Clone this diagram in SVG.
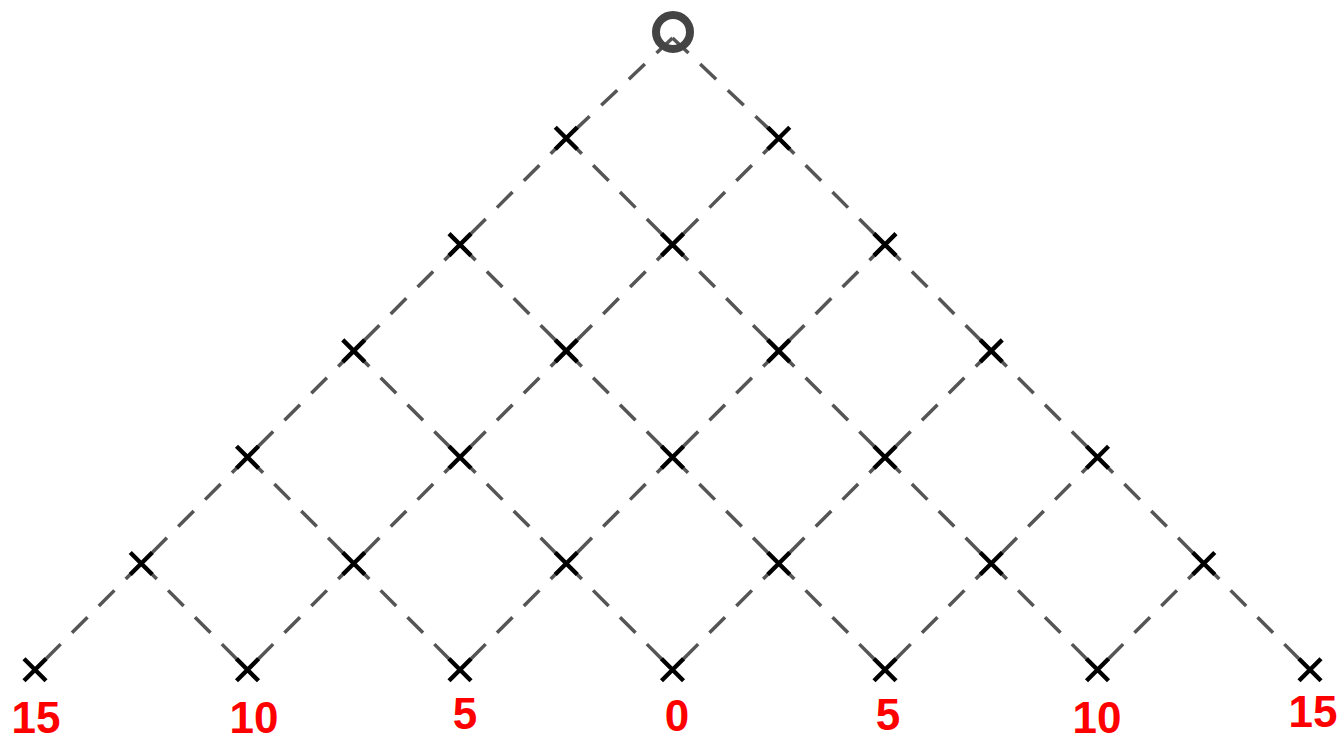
<svg xmlns="http://www.w3.org/2000/svg" xmlns:xlink="http://www.w3.org/1999/xlink" width="1342" height="738" viewBox="0 0 1342 738">
<style>
.edge{stroke:#555;stroke-width:3.5;stroke-dasharray:22 16;fill:none}
.xm{stroke:#000;stroke-width:4.4;fill:none;stroke-linecap:butt}
.lbl{fill:#ff0000;font-family:"Liberation Sans",Arial,sans-serif;font-weight:bold;font-size:44px;text-anchor:middle}
</style>
<defs>
<path id="x" class="xm" d="M-11,-11L11,11M-11,11L11,-11"/>
</defs>
<rect width="1342" height="738" fill="#fff"/>
<g id="connectors">
<line class="edge" x1="672.5" y1="38" x2="566.25" y2="138.3"/>
<line class="edge" x1="672.5" y1="38" x2="778.75" y2="138.3"/>
<line class="edge" x1="566.25" y1="138.3" x2="460" y2="244.6"/>
<line class="edge" x1="566.25" y1="138.3" x2="672.5" y2="244.6"/>
<line class="edge" x1="778.75" y1="138.3" x2="672.5" y2="244.6"/>
<line class="edge" x1="778.75" y1="138.3" x2="885" y2="244.6"/>
<line class="edge" x1="460" y1="244.6" x2="353.75" y2="350.9"/>
<line class="edge" x1="460" y1="244.6" x2="566.25" y2="350.9"/>
<line class="edge" x1="672.5" y1="244.6" x2="566.25" y2="350.9"/>
<line class="edge" x1="672.5" y1="244.6" x2="778.75" y2="350.9"/>
<line class="edge" x1="885" y1="244.6" x2="778.75" y2="350.9"/>
<line class="edge" x1="885" y1="244.6" x2="991.25" y2="350.9"/>
<line class="edge" x1="353.75" y1="350.9" x2="247.5" y2="457.2"/>
<line class="edge" x1="353.75" y1="350.9" x2="460" y2="457.2"/>
<line class="edge" x1="566.25" y1="350.9" x2="460" y2="457.2"/>
<line class="edge" x1="566.25" y1="350.9" x2="672.5" y2="457.2"/>
<line class="edge" x1="778.75" y1="350.9" x2="672.5" y2="457.2"/>
<line class="edge" x1="778.75" y1="350.9" x2="885" y2="457.2"/>
<line class="edge" x1="991.25" y1="350.9" x2="885" y2="457.2"/>
<line class="edge" x1="991.25" y1="350.9" x2="1097.5" y2="457.2"/>
<line class="edge" x1="247.5" y1="457.2" x2="141.25" y2="563.5"/>
<line class="edge" x1="247.5" y1="457.2" x2="353.75" y2="563.5"/>
<line class="edge" x1="460" y1="457.2" x2="353.75" y2="563.5"/>
<line class="edge" x1="460" y1="457.2" x2="566.25" y2="563.5"/>
<line class="edge" x1="672.5" y1="457.2" x2="566.25" y2="563.5"/>
<line class="edge" x1="672.5" y1="457.2" x2="778.75" y2="563.5"/>
<line class="edge" x1="885" y1="457.2" x2="778.75" y2="563.5"/>
<line class="edge" x1="885" y1="457.2" x2="991.25" y2="563.5"/>
<line class="edge" x1="1097.5" y1="457.2" x2="991.25" y2="563.5"/>
<line class="edge" x1="1097.5" y1="457.2" x2="1203.75" y2="563.5"/>
<line class="edge" x1="141.25" y1="563.5" x2="35" y2="669.8"/>
<line class="edge" x1="141.25" y1="563.5" x2="247.5" y2="669.8"/>
<line class="edge" x1="353.75" y1="563.5" x2="247.5" y2="669.8"/>
<line class="edge" x1="353.75" y1="563.5" x2="460" y2="669.8"/>
<line class="edge" x1="566.25" y1="563.5" x2="460" y2="669.8"/>
<line class="edge" x1="566.25" y1="563.5" x2="672.5" y2="669.8"/>
<line class="edge" x1="778.75" y1="563.5" x2="672.5" y2="669.8"/>
<line class="edge" x1="778.75" y1="563.5" x2="885" y2="669.8"/>
<line class="edge" x1="991.25" y1="563.5" x2="885" y2="669.8"/>
<line class="edge" x1="991.25" y1="563.5" x2="1097.5" y2="669.8"/>
<line class="edge" x1="1203.75" y1="563.5" x2="1097.5" y2="669.8"/>
<line class="edge" x1="1203.75" y1="563.5" x2="1310" y2="669.8"/>
</g>
<g id="root"><circle cx="673" cy="32" r="17" fill="none" stroke="#444" stroke-width="8"/></g>
<g id="n1-0"><use xlink:href="#x" x="566.25" y="138.3"/></g>
<g id="n1-1"><use xlink:href="#x" x="778.75" y="138.3"/></g>
<g id="n2-0"><use xlink:href="#x" x="460" y="244.6"/></g>
<g id="n2-1"><use xlink:href="#x" x="672.5" y="244.6"/></g>
<g id="n2-2"><use xlink:href="#x" x="885" y="244.6"/></g>
<g id="n3-0"><use xlink:href="#x" x="353.75" y="350.9"/></g>
<g id="n3-1"><use xlink:href="#x" x="566.25" y="350.9"/></g>
<g id="n3-2"><use xlink:href="#x" x="778.75" y="350.9"/></g>
<g id="n3-3"><use xlink:href="#x" x="991.25" y="350.9"/></g>
<g id="n4-0"><use xlink:href="#x" x="247.5" y="457.2"/></g>
<g id="n4-1"><use xlink:href="#x" x="460" y="457.2"/></g>
<g id="n4-2"><use xlink:href="#x" x="672.5" y="457.2"/></g>
<g id="n4-3"><use xlink:href="#x" x="885" y="457.2"/></g>
<g id="n4-4"><use xlink:href="#x" x="1097.5" y="457.2"/></g>
<g id="n5-0"><use xlink:href="#x" x="141.25" y="563.5"/></g>
<g id="n5-1"><use xlink:href="#x" x="353.75" y="563.5"/></g>
<g id="n5-2"><use xlink:href="#x" x="566.25" y="563.5"/></g>
<g id="n5-3"><use xlink:href="#x" x="778.75" y="563.5"/></g>
<g id="n5-4"><use xlink:href="#x" x="991.25" y="563.5"/></g>
<g id="n5-5"><use xlink:href="#x" x="1203.75" y="563.5"/></g>
<g id="n6-0"><use xlink:href="#x" x="35" y="669.8"/><text class="lbl" x="36" y="733">15</text></g>
<g id="n6-1"><use xlink:href="#x" x="247.5" y="669.8"/><text class="lbl" x="254" y="733">10</text></g>
<g id="n6-2"><use xlink:href="#x" x="460" y="669.8"/><text class="lbl" x="465" y="729">5</text></g>
<g id="n6-3"><use xlink:href="#x" x="672.5" y="669.8"/><text class="lbl" x="677" y="731">0</text></g>
<g id="n6-4"><use xlink:href="#x" x="885" y="669.8"/><text class="lbl" x="888" y="730">5</text></g>
<g id="n6-5"><use xlink:href="#x" x="1097.5" y="669.8"/><text class="lbl" x="1097" y="733">10</text></g>
<g id="n6-6"><use xlink:href="#x" x="1310" y="669.8"/><text class="lbl" x="1313" y="727">15</text></g>
</svg>
